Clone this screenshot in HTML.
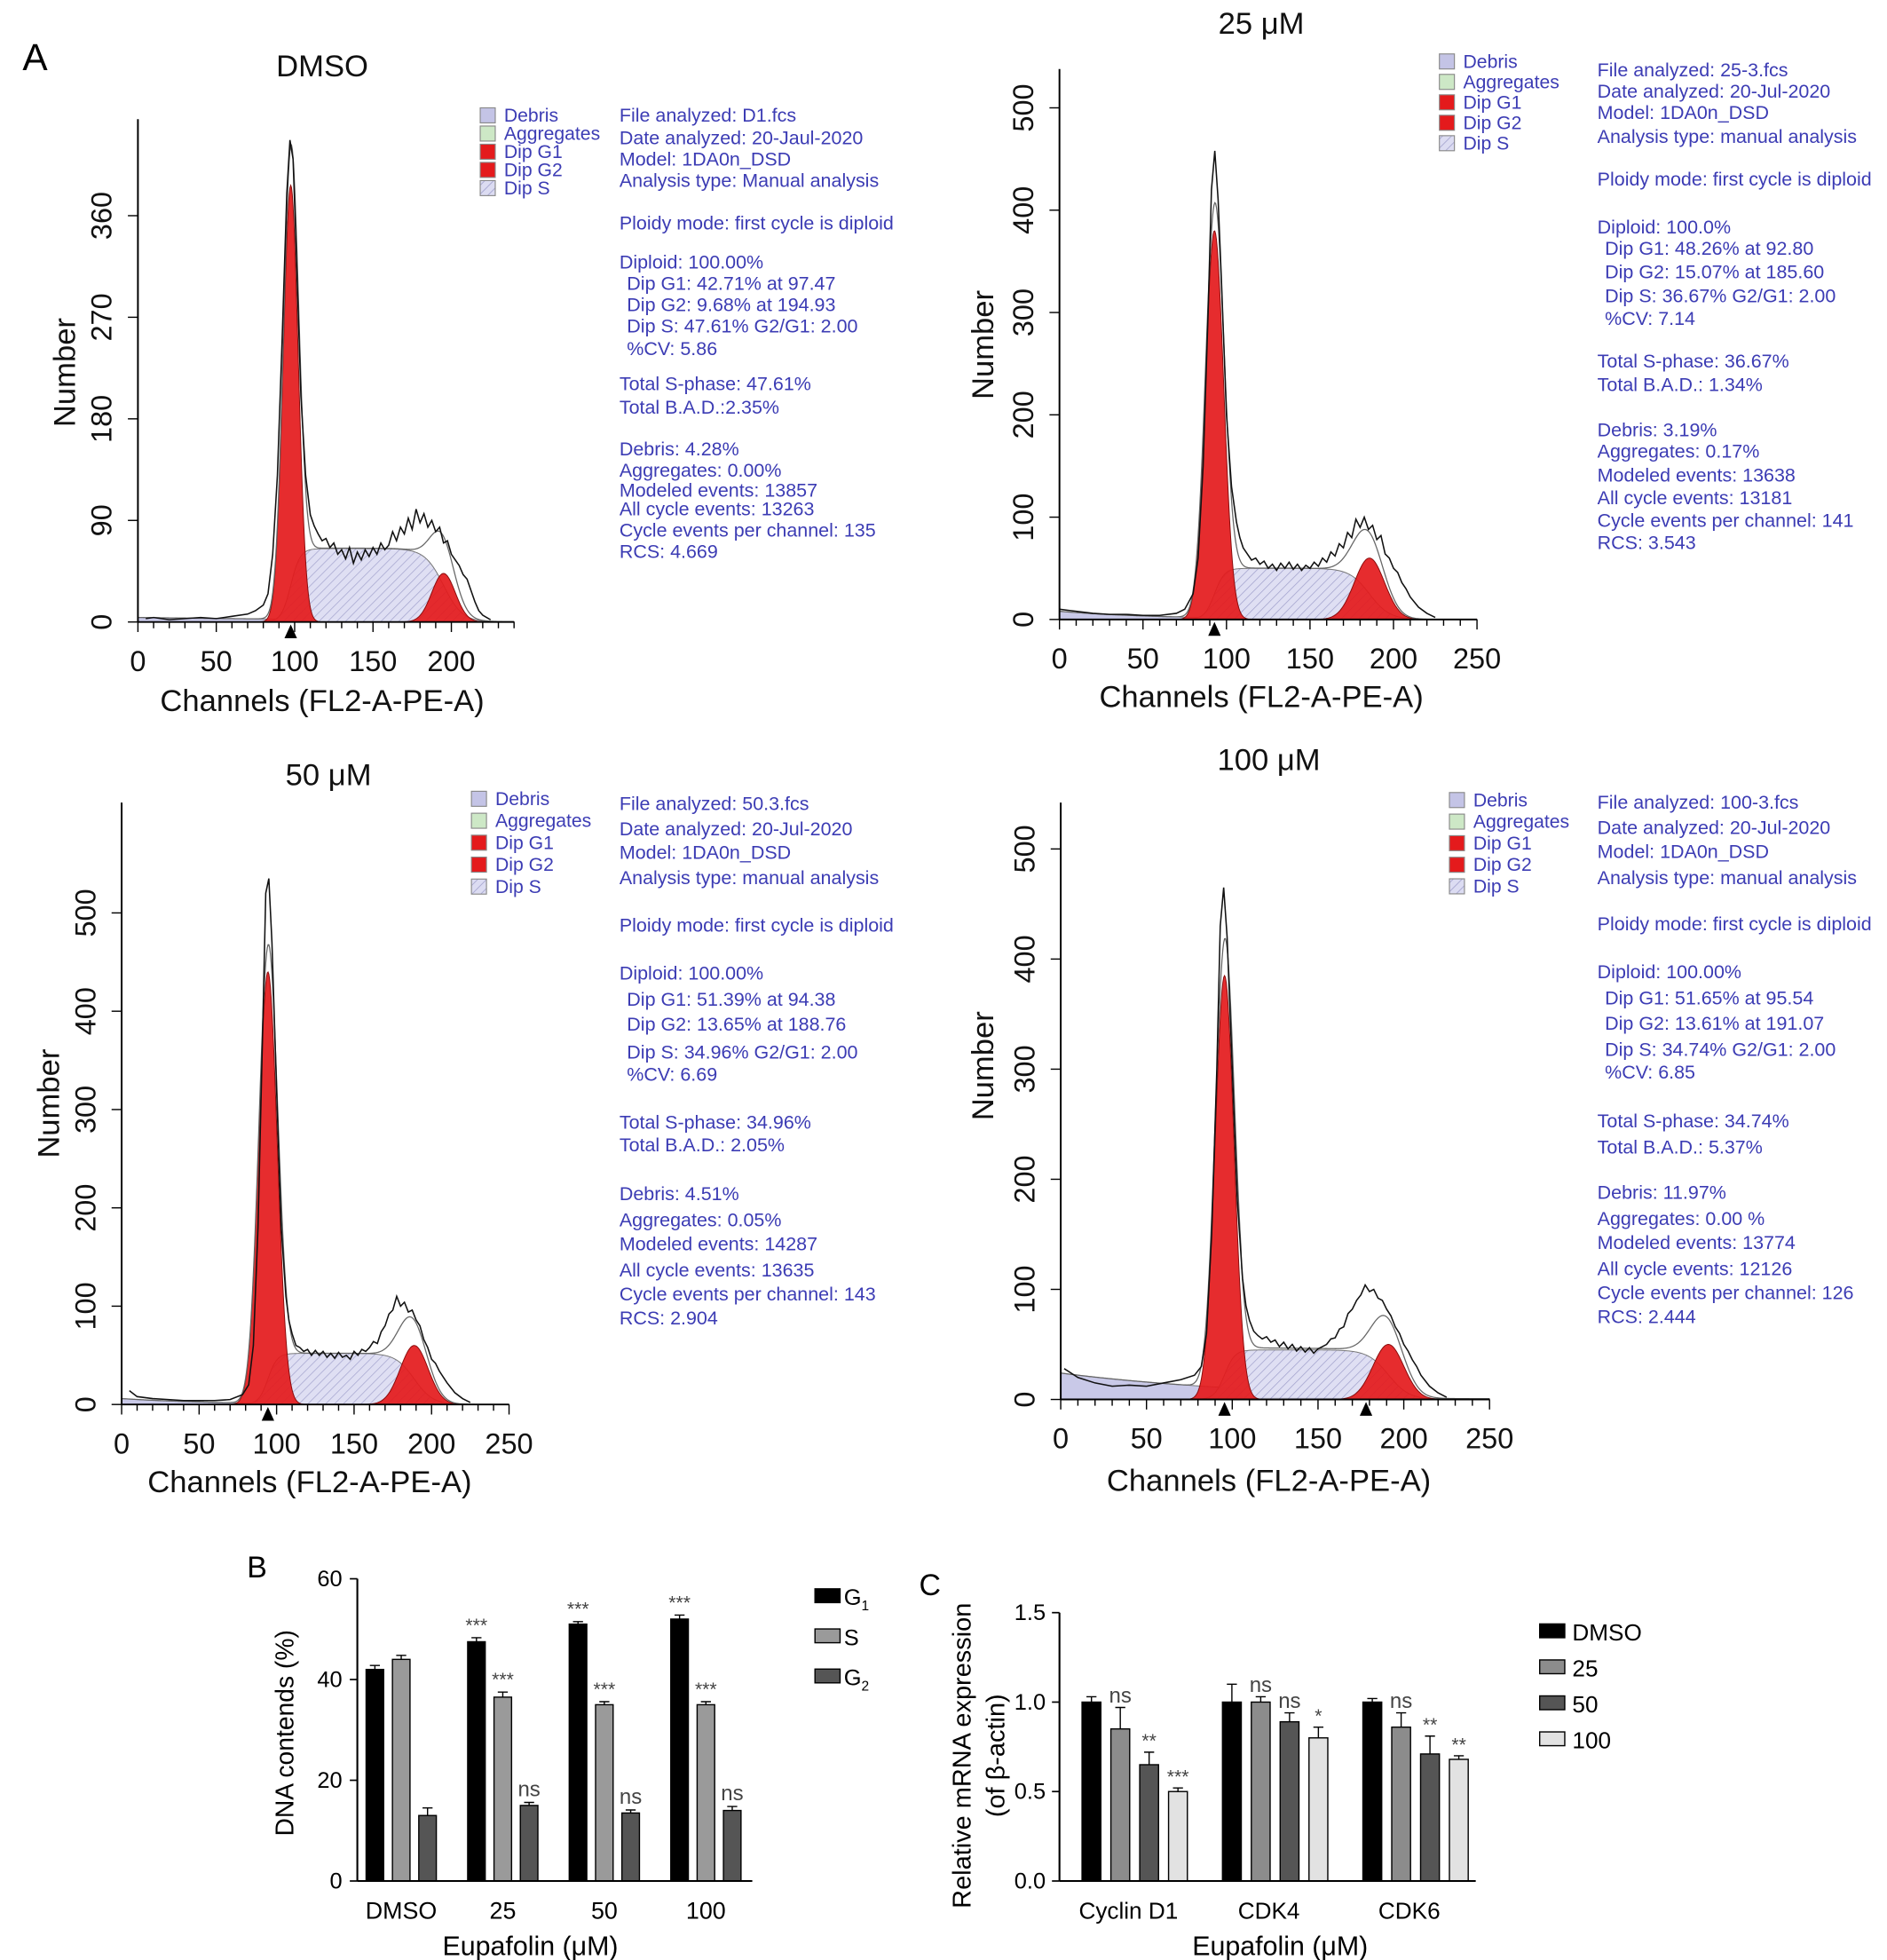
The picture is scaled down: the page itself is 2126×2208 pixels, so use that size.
<!DOCTYPE html>
<html><head><meta charset="utf-8"><title>Cell cycle analysis</title>
<style>
html,body{margin:0;padding:0;background:#fff;}
svg{display:block;}
text{font-family:"Liberation Sans",Arial,sans-serif;}
.info{fill:#3c3cb4;font-size:15.2px;}
.leg{fill:#3c3cb4;font-size:15px;}
.ax{font-size:24.5px;fill:#111;}
.tk{font-size:23px;fill:#111;}
</style></head>
<body>
<svg id="fig" xmlns="http://www.w3.org/2000/svg" width="2126" height="2208" viewBox="0 0 1505 1563" preserveAspectRatio="none">
<defs>
<pattern id="hatch" width="5" height="5" patternUnits="userSpaceOnUse" patternTransform="rotate(45)">
<rect width="5" height="5" fill="#dcdcf2"/><line x1="0" y1="0" x2="0" y2="5" stroke="#9a9ac8" stroke-width="1"/>
</pattern>
</defs>
<text x="18" y="56" font-size="30">A</text>
<text x="197" y="1258" font-size="24">B</text>
<text x="733" y="1272" font-size="24">C</text>
<g id="layer"></g>
</svg>
<script>
// ---------- Histogram data (channel, count) ----------
const dmsoCh  = [5,10,20,30,40,50,60,70,75,80,83,86,89,92,95,97,99,101,104,107,
 110,112.5,115,117.5,120,122.5,125,127.5,130,132.5,135,137.5,140,142.5,145,147.5,150,152.5,155,157.5,160,162.5,165,167.5,170,172.5,175,177.5,180,182.5,185,187.5,190,192.5,195,197.5,200,202.5,205,207.5,210,212.5,215,217.5,220,225];
const dmsoCnt = [3,4,2,3,4,3,5,7,10,15,25,60,130,250,380,427,410,330,200,130,
 95,85,78,72,74,66,70,60,64,56,66,52,62,55,64,58,66,60,70,64,68,80,72,84,78,92,82,100,88,96,84,90,80,84,70,72,60,55,50,42,38,28,18,10,6,2];
const c25Ch   = [0,5,10,20,30,40,50,60,70,75,80,83,86,89,91,93,95,97,100,103,
 106,108,110,112.5,115,117.5,120,122.5,125,127.5,130,132.5,135,137.5,140,142.5,145,147.5,150,152.5,155,157.5,160,162.5,165,167.5,170,172.5,175,177.5,180,182.5,185,187.5,190,192.5,195,197.5,200,202.5,205,207.5,210,215,220,225];
const c25Cnt  = [10,9,8,6,5,5,4,4,6,10,25,60,150,300,420,458,410,330,200,130,
 95,80,70,64,58,60,54,57,50,54,48,55,50,56,49,54,48,53,50,56,52,60,56,66,62,74,70,85,80,98,90,100,88,92,78,82,64,60,50,46,36,30,22,12,6,2];
const c50Ch   = [5,10,20,30,40,50,60,70,78,82,85,88,91,93,95,97,100,103,
 106,108,110,112.5,115,117.5,120,122.5,125,127.5,130,132.5,135,137.5,140,142.5,145,147.5,150,152.5,155,157.5,160,162.5,165,167.5,170,172.5,175,177.5,180,182.5,185,187.5,190,192.5,195,197.5,200,202.5,205,207.5,210,215,220,225];
const c50Cnt  = [14,8,6,5,4,4,4,5,10,20,60,180,380,520,535,470,320,180,
 110,85,72,60,58,54,56,50,55,50,54,48,52,47,53,48,50,46,54,50,56,54,58,64,62,74,80,92,96,110,100,104,94,96,86,80,66,58,46,42,34,28,22,12,6,2];
const c100Ch  = [2,5,10,20,30,40,50,60,70,78,82,85,88,91,93,95,97,100,103,
 106,108,110,112.5,115,117.5,120,122.5,125,127.5,130,132.5,135,137.5,140,142.5,145,147.5,150,152.5,155,157.5,160,162.5,165,167.5,170,172.5,175,177.5,180,182.5,185,187.5,190,192.5,195,197.5,200,202.5,205,207.5,210,215,220,225];
const c100Cnt = [28,25,20,15,12,13,12,15,18,22,30,60,150,300,430,465,420,300,180,
 110,85,72,62,58,55,57,52,54,48,52,46,50,44,48,43,47,42,46,48,50,55,56,64,66,78,82,90,95,104,98,100,92,90,82,76,66,60,50,44,36,30,22,12,6,2];

// ---------- Bar chart data ----------
const bGroups = ["DMSO","25","50","100"];
const bG1 = [42,47.5,51,52];
const bS  = [44,36.5,35,35];
const bG2 = [13,15,13.5,14];
const bG1err = [0.8,0.8,0.5,0.8];
const bSerr  = [0.8,1,0.6,0.6];
const bG2err = [1.5,0.6,0.6,0.8];
const bG1sig = ["","***","***","***"];
const bSsig  = ["","***","***","***"];
const bG2sig = ["","ns","ns","ns"];
const bYTicks = [0,20,40,60];

const cGenes = ["Cyclin D1","CDK4","CDK6"];
const cDMSO = [1.0,1.0,1.0];
const c25   = [0.85,1.0,0.86];
const c50v  = [0.65,0.89,0.71];
const c100v = [0.5,0.8,0.68];
const cErrDMSO = [0.03,0.1,0.02];
const cErr25   = [0.12,0.03,0.08];
const cErr50   = [0.07,0.05,0.1];
const cErr100  = [0.02,0.06,0.02];
const cSig25  = ["ns","ns","ns"];
const cSig50  = ["**","ns","**"];
const cSig100 = ["***","*","**"];
const cYTicks = [0,0.5,1.0,1.5];

const NS="http://www.w3.org/2000/svg";
const layer=document.getElementById('layer');
function mk(tag,attrs,parent){const e=document.createElementNS(NS,tag);for(const k in attrs)e.setAttribute(k,attrs[k]);(parent||layer).appendChild(e);return e;}
function txt(x,y,s,attrs,parent){const e=mk('text',Object.assign({x:x,y:y},attrs||{}),parent);e.textContent=s;return e;}
function gauss(x,m,s){return Math.exp(-0.5*((x-m)/s)*((x-m)/s));}
function sig(x){return 1/(1+Math.exp(-x));}

function drawHist(p){
  const g=mk('g',{});
  
  
  const fx=c=>p.ox+c*p.sx, fy=v=>p.oy-v*p.sy;
  const comp={g1:[],s:[],g2:[],deb:[],tot:[]};
  for(let c=0;c<=p.xend;c+=0.5){
    const a=p.g1h*gauss(c,p.g1m,p.g1s);
    const b=p.g2h*gauss(c,p.g2m,p.g2s);
    const s=p.sh*sig((c-p.g1m)/3)*(1-sig((c-p.g2m)/6));
    const d=p.debh*Math.exp(-c/p.debk)*(c<p.g1m+10?1:0.2);
    comp.g1.push([c,a]);comp.s.push([c,s]);comp.g2.push([c,b]);comp.deb.push([c,d]);comp.tot.push([c,a+b+s+d]);
  }
  function area(arr,fill,stroke,nm){
    let d='M'+fx(arr[0][0])+','+fy(0);
    arr.forEach(q=>{d+=' L'+fx(q[0]).toFixed(2)+','+fy(q[1]).toFixed(2);});
    d+=' L'+fx(arr[arr.length-1][0])+','+fy(0)+' Z';
    const e=mk('path',{d:d,fill:fill,stroke:stroke,'stroke-width':0.7,'fill-opacity':0.92},g);
    
    
  }
  if(p.debh>0) area(comp.deb,'#c4c4e6','#777','debris-fill');
  area(comp.s,'url(#hatch)','#777','dip-s-fill');
  area(comp.g1,'#e41a1c','#8a0c0c','dip-g1-fill');
  area(comp.g2,'#e41a1c','#8a0c0c','dip-g2-fill');
  let dt='';comp.tot.forEach((q,i)=>{dt+=(i?' L':'M')+fx(q[0]).toFixed(2)+','+fy(q[1]).toFixed(2);});
  const tl=mk('path',{d:dt,fill:'none',stroke:'#666','stroke-width':0.9},g);
  
  
  let dr='';p.ch.forEach((c,i)=>{dr+=(i?' L':'M')+fx(c).toFixed(2)+','+fy(p.cnt[i]).toFixed(2);});
  const rl=mk('path',{d:dr,fill:'none',stroke:'#111','stroke-width':1.1},g);
  
  
  const ya=mk('line',{x1:p.ox,y1:p.oy,x2:p.ox,y2:p.ytop,stroke:'#000','stroke-width':1.4},g);
  
  
  const xa=mk('line',{x1:p.ox,y1:p.oy,x2:fx(p.xend),y2:p.oy,stroke:'#000','stroke-width':1.4},g);
  
  
  for(let c=0;c<=p.xend;c+=10){
    const t=mk('line',{x1:fx(c),y1:p.oy,x2:fx(c),y2:p.oy+(c%50===0?8:5),stroke:'#000','stroke-width':1},g);
    
    
  }
  p.xticks.forEach(c=>{
    const t=txt(fx(c),p.oy+39,String(c),{'text-anchor':'middle',class:'tk'},g);
    
    
  });
  p.yticks.forEach(v=>{
    const tk=mk('line',{x1:p.ox-8,y1:fy(v),x2:p.ox,y2:fy(v),stroke:'#000','stroke-width':1},g);
    
    
    const t=txt(p.ox-21,fy(v),String(v),{'text-anchor':'middle',class:'tk',transform:'rotate(-90 '+(p.ox-21)+' '+fy(v)+')'},g);
    
    
  });
  p.arrows.forEach(c=>{
    const a=mk('path',{d:'M'+fx(c)+','+(p.oy+2)+' l-5,11 l10,0 Z',fill:'#000'},g);
    
    
  });
  const yt=txt(p.ylx,p.yly,'Number',{'text-anchor':'middle',class:'ax',transform:'rotate(-90 '+p.ylx+' '+p.yly+')'},g);
  
  
  const xt=txt(p.xlx,p.xly,'Channels (FL2-A-PE-A)',{'text-anchor':'middle',class:'ax'},g);
  
  
  const tt=txt(p.tx,p.ty,p.title,{'text-anchor':'middle',class:'ax'},g);
  
  
  const labs=['Debris','Aggregates','Dip G1','Dip G2','Dip S'];
  const fills=['#c4c4e6','#cde8c6','#e41a1c','#e41a1c','url(#hatch)'];
  labs.forEach((l,i)=>{
    const y=p.legy+i*p.legsp;
    const r=mk('rect',{x:p.legx,y:y-11,width:12,height:12,fill:fills[i],stroke:'#888','stroke-width':0.8},g);
    
    
    const t=txt(p.legx+19,y,l,{class:'leg'},g);
    
    
  });
  p.info.forEach(q=>{
    const t=txt(p.infx+(q[2]?6:0),q[0],q[1],{class:'info'},g);
    
    
  });
}

drawHist({name:'dmso',ox:110,oy:496,sx:1.25,sy:0.9,xend:240,ytop:95,yticks:[0,90,180,270,360],xticks:[0,50,100,150,200],
 ch:dmsoCh,cnt:dmsoCnt,g1m:97.5,g1h:387,g1s:4.8,g2m:195,g2h:43,g2s:7.5,sh:65,debh:4,debk:200,arrows:[97.5],
 ylx:60,yly:297,xlx:257,xly:567,tx:257,ty:61,title:'DMSO',legx:383,legy:97,legsp:14.5,infx:494,
 info:[[97,'File analyzed: D1.fcs'],[115,'Date analyzed: 20-Jaul-2020'],[132,'Model: 1DA0n_DSD'],[149,'Analysis type: Manual analysis'],[183,'Ploidy mode: first cycle is diploid'],[214,'Diploid: 100.00%'],[231,'Dip G1: 42.71% at 97.47',1],[248,'Dip G2: 9.68% at 194.93',1],[265,'Dip S: 47.61% G2/G1: 2.00',1],[283,'%CV: 5.86',1],[311,'Total S-phase: 47.61%'],[330,'Total B.A.D.:2.35%'],[363,'Debris: 4.28%'],[380,'Aggregates: 0.00%'],[396,'Modeled events: 13857'],[411,'All cycle events: 13263'],[428,'Cycle events per channel: 135'],[445,'RCS: 4.669']]});

drawHist({name:'eupafolin-25',ox:845,oy:494,sx:1.332,sy:0.816,xend:250,ytop:55,yticks:[0,100,200,300,400,500],xticks:[0,50,100,150,200,250],
 ch:c25Ch,cnt:c25Cnt,g1m:92.8,g1h:380,g1s:5.5,g2m:185.6,g2h:60,g2s:9,sh:50,debh:8,debk:60,arrows:[92.8],
 ylx:792,yly:275,xlx:1006,xly:564,tx:1006,ty:27,title:'25 \u03bcM',legx:1148,legy:54,legsp:16.3,infx:1274,
 info:[[61,'File analyzed: 25-3.fcs'],[78,'Date analyzed: 20-Jul-2020'],[95,'Model: 1DA0n_DSD'],[114,'Analysis type: manual analysis'],[148,'Ploidy mode: first cycle is diploid'],[186,'Diploid: 100.0%'],[203,'Dip G1: 48.26% at 92.80',1],[222,'Dip G2: 15.07% at 185.60',1],[241,'Dip S: 36.67% G2/G1: 2.00',1],[259,'%CV: 7.14',1],[293,'Total S-phase: 36.67%'],[312,'Total B.A.D.: 1.34%'],[348,'Debris: 3.19%'],[365,'Aggregates: 0.17%'],[384,'Modeled events: 13638'],[402,'All cycle events: 13181'],[420,'Cycle events per channel: 141'],[438,'RCS: 3.543']]});

drawHist({name:'eupafolin-50',ox:97,oy:1120,sx:1.236,sy:0.784,xend:250,ytop:640,yticks:[0,100,200,300,400,500],xticks:[0,50,100,150,200,250],
 ch:c50Ch,cnt:c50Cnt,g1m:94.4,g1h:440,g1s:6,g2m:188.8,g2h:60,g2s:9,sh:52,debh:6,debk:60,arrows:[94.4],
 ylx:47,yly:880,xlx:247,xly:1190,tx:262,ty:626,title:'50 \u03bcM',legx:376,legy:642,legsp:17.5,infx:494,
 info:[[646,'File analyzed: 50.3.fcs'],[666,'Date analyzed: 20-Jul-2020'],[685,'Model: 1DA0n_DSD'],[705,'Analysis type: manual analysis'],[743,'Ploidy mode: first cycle is diploid'],[781,'Diploid: 100.00%'],[802,'Dip G1: 51.39% at 94.38',1],[822,'Dip G2: 13.65% at 188.76',1],[844,'Dip S: 34.96% G2/G1: 2.00',1],[862,'%CV: 6.69',1],[900,'Total S-phase: 34.96%'],[918,'Total B.A.D.: 2.05%'],[957,'Debris: 4.51%'],[978,'Aggregates: 0.05%'],[997,'Modeled events: 14287'],[1018,'All cycle events: 13635'],[1037,'Cycle events per channel: 143'],[1056,'RCS: 2.904']]});

drawHist({name:'eupafolin-100',ox:846,oy:1116,sx:1.368,sy:0.878,xend:250,ytop:640,yticks:[0,100,200,300,400,500],xticks:[0,50,100,150,200,250],
 ch:c100Ch,cnt:c100Cnt,g1m:95.5,g1h:385,g1s:5.5,g2m:191,g2h:50,g2s:9,sh:45,debh:24,debk:120,arrows:[95.5,178],
 ylx:792,yly:850,xlx:1012,xly:1189,tx:1012,ty:614,title:'100 \u03bcM',legx:1156,legy:643,legsp:17.2,infx:1274,
 info:[[645,'File analyzed: 100-3.fcs'],[665,'Date analyzed: 20-Jul-2020'],[684,'Model: 1DA0n_DSD'],[705,'Analysis type: manual analysis'],[742,'Ploidy mode: first cycle is diploid'],[780,'Diploid: 100.00%'],[801,'Dip G1: 51.65% at 95.54',1],[821,'Dip G2: 13.61% at 191.07',1],[842,'Dip S: 34.74% G2/G1: 2.00',1],[860,'%CV: 6.85',1],[899,'Total S-phase: 34.74%'],[920,'Total B.A.D.: 5.37%'],[956,'Debris: 11.97%'],[977,'Aggregates: 0.00 %'],[996,'Modeled events: 13774'],[1017,'All cycle events: 12126'],[1036,'Cycle events per channel: 126'],[1055,'RCS: 2.444']]});

// ---------- Panel B ----------
(function(){
  const g=mk('g',{});
  
  
  const ox=285,oy=1500,ys=241/60,xend=600;
  const fy=v=>oy-v*ys;
  const gx=i=>320+i*81;
  const series=[[bG1,bG1err,bG1sig,'#000','g1'],[bS,bSerr,bSsig,'#9a9a9a','s'],[bG2,bG2err,bG2sig,'#555','g2']];
  series.forEach((s,si)=>{
    s[0].forEach((v,i)=>{
      const cx=gx(i)+(si-1)*21;
      const r=mk('rect',{x:cx-7,y:fy(v),width:14,height:v*ys,fill:s[3],stroke:'#000','stroke-width':1},g);
      
      
      const e=mk('path',{d:'M'+cx+','+fy(v)+' V'+fy(v+s[1][i])+' M'+(cx-4)+','+fy(v+s[1][i])+' H'+(cx+4),stroke:'#000','stroke-width':1,fill:'none'},g);
      
      
      if(s[2][i]){
        const t=txt(cx,fy(v+s[1][i])-5,s[2][i],{'text-anchor':'middle','font-size':s[2][i]==='ns'?17:15,fill:'#444'},g);
        
        
      }
    });
  });
  const ya=mk('line',{x1:ox,y1:oy,x2:ox,y2:fy(60),stroke:'#000','stroke-width':1.5},g);
  
  
  const xa=mk('line',{x1:ox,y1:oy,x2:xend,y2:oy,stroke:'#000','stroke-width':1.5},g);
  
  
  bYTicks.forEach(v=>{
    const tk=mk('line',{x1:ox-6,y1:fy(v),x2:ox,y2:fy(v),stroke:'#000','stroke-width':1.2},g);
    
    
    const t=txt(ox-12,fy(v)+6,String(v),{'text-anchor':'end','font-size':18},g);
    
    
  });
  bGroups.forEach((n,i)=>{
    const t=txt(gx(i),1530,n,{'text-anchor':'middle','font-size':19},g);
    
    
  });
  const xt=txt(423,1559,'Eupafolin (\u03bcM)',{'text-anchor':'middle','font-size':21.5},g);
  
  
  const yt=txt(234,1382,'DNA contends (%)',{'text-anchor':'middle','font-size':20,transform:'rotate(-90 234 1382)'},g);
  
  
  const lab=[['G','1','#000'],['S','','#9a9a9a'],['G','2','#555']];
  lab.forEach((l,i)=>{
    const y=1274+i*32;
    const r=mk('rect',{x:650,y:y-7,width:20,height:11,fill:l[2],stroke:'#000','stroke-width':1},g);
    
    
    const t=mk('text',{x:673,y:y+6,'font-size':18},g);
    
    
    t.textContent=l[0];
    if(l[1]){const ts=mk('tspan',{'font-size':11,dy:4},t);ts.textContent=l[1];}
  });
})();

// ---------- Panel C ----------
(function(){
  const g=mk('g',{});
  
  
  const ox=845,oy=1500,ys=214/1.5,xend=1177;
  const fy=v=>oy-v*ys;
  const gx=i=>905+i*112;
  const series=[[cDMSO,cErrDMSO,null,'#000','dmso'],[c25,cErr25,cSig25,'#8c8c8c','25'],[c50v,cErr50,cSig50,'#555','50'],[c100v,cErr100,cSig100,'#e2e2e2','100']];
  series.forEach((s,si)=>{
    s[0].forEach((v,i)=>{
      const cx=gx(i)+(si-1.5)*23;
      const r=mk('rect',{x:cx-7.5,y:fy(v),width:15,height:v*ys,fill:s[3],stroke:'#000','stroke-width':1},g);
      
      
      const e=mk('path',{d:'M'+cx+','+fy(v)+' V'+fy(v+s[1][i])+' M'+(cx-4)+','+fy(v+s[1][i])+' H'+(cx+4),stroke:'#000','stroke-width':1,fill:'none'},g);
      
      
      if(s[2]){
        const t=txt(cx,fy(v+s[1][i])-4,s[2][i],{'text-anchor':'middle','font-size':s[2][i]==='ns'?17:15,fill:'#444'},g);
        
        
      }
    });
  });
  const ya=mk('line',{x1:ox,y1:oy,x2:ox,y2:fy(1.5),stroke:'#000','stroke-width':1.5},g);
  
  
  const xa=mk('line',{x1:ox,y1:oy,x2:xend,y2:oy,stroke:'#000','stroke-width':1.5},g);
  
  
  cYTicks.forEach(v=>{
    const tk=mk('line',{x1:ox-6,y1:fy(v),x2:ox,y2:fy(v),stroke:'#000','stroke-width':1.2},g);
    
    
    const t=txt(ox-11,fy(v)+6,v.toFixed(1),{'text-anchor':'end','font-size':18},g);
    
    
  });
  cGenes.forEach((n,i)=>{
    const t=txt(gx(i)-5,1530,n,{'text-anchor':'middle','font-size':18.5},g);
    
    
  });
  const xt=txt(1021,1559,'Eupafolin (\u03bcM)',{'text-anchor':'middle','font-size':21.5},g);
  
  
  const yt=txt(774,1400,'Relative mRNA expression',{'text-anchor':'middle','font-size':20.5,transform:'rotate(-90 774 1400)'},g);
  
  
  const yt2=txt(801,1400,'(of \u03b2-actin)',{'text-anchor':'middle','font-size':20.5,transform:'rotate(-90 801 1400)'},g);
  
  
  const lab=[['DMSO','#000'],['25','#8c8c8c'],['50','#555'],['100','#e2e2e2']];
  lab.forEach((l,i)=>{
    const y=1301+i*28.7;
    const r=mk('rect',{x:1228,y:y-6,width:20,height:11,fill:l[1],stroke:'#000','stroke-width':1},g);
    
    
    const t=txt(1254,y+7,l[0],{'font-size':18.5},g);
    
    
  });
})();
</script>
</body></html>
